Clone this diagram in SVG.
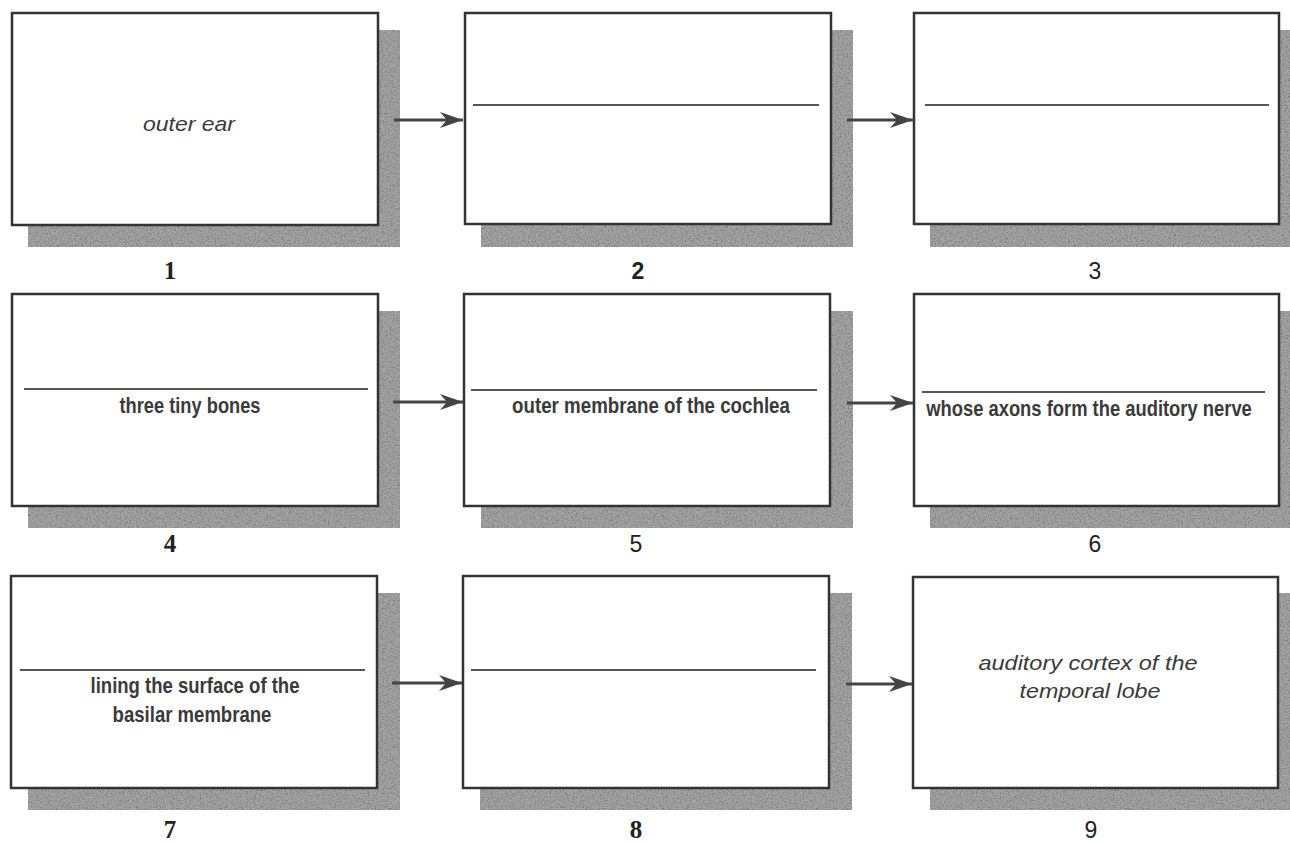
<svg xmlns="http://www.w3.org/2000/svg" width="1290" height="842" viewBox="0 0 1290 842">
<defs>
  <filter id="grain" x="0" y="0" width="1" height="1" color-interpolation-filters="sRGB">
    <feTurbulence type="fractalNoise" baseFrequency="0.6" numOctaves="2" seed="7" result="n"/>
    <feColorMatrix in="n" type="matrix" values="0.35 0.35 0.35 0 0.42  0.35 0.35 0.35 0 0.42  0.35 0.35 0.35 0 0.42  0 0 0 0 1" result="gn"/>
    <feBlend in="SourceGraphic" in2="gn" mode="multiply" result="b"/>
    <feComposite in="b" in2="SourceGraphic" operator="in"/>
  </filter>
  <marker id="arr" markerWidth="24" markerHeight="18" refX="23" refY="9" orient="auto" markerUnits="userSpaceOnUse" viewBox="0 0 24 18">
    <path d="M0,1 L23,9 L0,17 L7,9 Z" fill="#444"/>
  </marker>
</defs>
<style>
  .bg{fill:#ffffff}
  .shadow{fill:#a4a4a4;filter:url(#grain)}
  .box{fill:#ffffff;stroke:#333;stroke-width:2.5}
  .rule{stroke:#555;stroke-width:2}
  .lbl{font-family:"Liberation Sans",Arial,sans-serif;font-weight:bold;font-size:23px;fill:#3a3a3a;text-anchor:middle}
  .ital{font-family:"Liberation Sans",Arial,sans-serif;font-style:italic;font-size:21px;fill:#3a3a3a;text-anchor:middle}
  .num{font-family:"Liberation Serif","Times New Roman",serif;font-size:25px;font-weight:bold;fill:#222;text-anchor:middle}
  .nums{font-family:"Liberation Sans",Arial,sans-serif;font-size:23px;fill:#222;text-anchor:middle}
  .conn{stroke:#444;stroke-width:3;fill:none}
</style>
<rect class="bg" x="0" y="0" width="1290" height="842"/>

<g id="node1">
  <rect class="shadow" x="28" y="30" width="372" height="217"/>
  <rect class="box" x="12" y="13" width="366" height="212"/>
  <text class="ital" x="189" y="131" textLength="92" lengthAdjust="spacingAndGlyphs">outer ear</text>
  <text class="num" x="170" y="279">1</text>
</g>
<g id="node2">
  <rect class="shadow" x="481" y="30" width="372" height="217"/>
  <rect class="box" x="465" y="13" width="366" height="211"/>
  <line class="rule" x1="473" y1="105" x2="819" y2="105"/>
  <text class="nums" x="638" y="279" font-weight="bold">2</text>
</g>
<g id="node3">
  <rect class="shadow" x="930" y="30" width="360" height="217"/>
  <rect class="box" x="914" y="13" width="365" height="211"/>
  <line class="rule" x1="925" y1="105" x2="1269" y2="105"/>
  <text class="nums" x="1095" y="279">3</text>
</g>

<g id="node4">
  <rect class="shadow" x="28" y="311" width="372" height="217"/>
  <rect class="box" x="12" y="294" width="366" height="212"/>
  <line class="rule" x1="24" y1="389" x2="368" y2="389"/>
  <g transform="translate(190,413) scale(0.81,1)">
    <text class="lbl" x="0" y="0" textLength="174" lengthAdjust="spacingAndGlyphs">three tiny bones</text>
  </g>
  <text class="num" x="170" y="552">4</text>
</g>
<g id="node5">
  <rect class="shadow" x="481" y="311" width="372" height="217"/>
  <rect class="box" x="464" y="294" width="366" height="212"/>
  <line class="rule" x1="471" y1="390" x2="817" y2="390"/>
  <g transform="translate(651,413) scale(0.81,1)">
    <text class="lbl" x="0" y="0" textLength="343" lengthAdjust="spacingAndGlyphs">outer membrane of the cochlea</text>
  </g>
  <text class="nums" x="636" y="552">5</text>
</g>
<g id="node6">
  <rect class="shadow" x="930" y="311" width="360" height="217"/>
  <rect class="box" x="914" y="294" width="365" height="212"/>
  <line class="rule" x1="922" y1="392" x2="1265" y2="392"/>
  <g transform="translate(1089,416) scale(0.81,1)">
    <text class="lbl" x="0" y="0" font-size="22" textLength="402" lengthAdjust="spacingAndGlyphs">whose axons form the auditory nerve</text>
  </g>
  <text class="nums" x="1095" y="552">6</text>
</g>

<g id="node7">
  <rect class="shadow" x="28" y="593" width="372" height="217"/>
  <rect class="box" x="11" y="576" width="366" height="212"/>
  <line class="rule" x1="20" y1="670" x2="365" y2="670"/>
  <g transform="translate(195,693) scale(0.81,1)">
    <text class="lbl" x="0" y="0" textLength="258" lengthAdjust="spacingAndGlyphs">lining the surface of the</text>
  </g>
  <g transform="translate(192,722) scale(0.81,1)">
    <text class="lbl" x="0" y="0" textLength="196" lengthAdjust="spacingAndGlyphs">basilar membrane</text>
  </g>
  <text class="num" x="170" y="838">7</text>
</g>
<g id="node8">
  <rect class="shadow" x="480" y="593" width="372" height="217"/>
  <rect class="box" x="463" y="576" width="366" height="212"/>
  <line class="rule" x1="471" y1="670" x2="816" y2="670"/>
  <text class="num" x="636" y="838">8</text>
</g>
<g id="node9">
  <rect class="shadow" x="930" y="593" width="360" height="217"/>
  <rect class="box" x="913" y="577" width="365" height="211"/>
  <text class="ital" x="1088" y="670" textLength="219" lengthAdjust="spacingAndGlyphs">auditory cortex of the</text>
  <text class="ital" x="1090" y="698" textLength="141" lengthAdjust="spacingAndGlyphs">temporal lobe</text>
  <text class="nums" x="1091" y="838">9</text>
</g>

<g id="connectors">
  <line class="conn" x1="394" y1="120" x2="463" y2="120" marker-end="url(#arr)"/>
  <line class="conn" x1="847" y1="120" x2="913" y2="120" marker-end="url(#arr)"/>
  <line class="conn" x1="393" y1="402" x2="463" y2="402" marker-end="url(#arr)"/>
  <line class="conn" x1="847" y1="403" x2="913" y2="403" marker-end="url(#arr)"/>
  <line class="conn" x1="392" y1="683" x2="462" y2="683" marker-end="url(#arr)"/>
  <line class="conn" x1="846" y1="684" x2="912" y2="684" marker-end="url(#arr)"/>
</g>
</svg>
